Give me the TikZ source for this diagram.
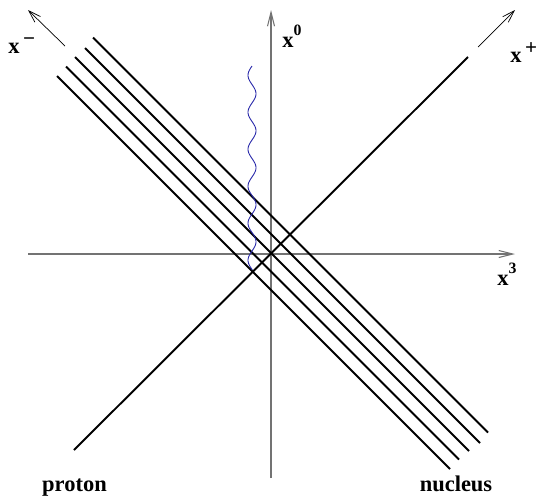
\documentclass[tikz,border=0pt]{standalone}
\usepackage{fontspec}
\setmainfont{Liberation Serif}
\usetikzlibrary{arrows.meta}
\definecolor{wavyblue}{HTML}{2424A8}
\newcommand{\supsign}[1]{\raisebox{0.35em}{\fontsize{12}{12}\selectfont\,#1}}
\newcommand{\supdigit}[1]{\raisebox{0.5em}{\fontsize{9}{9}\selectfont#1}}

\begin{document}
\begin{tikzpicture}[x=0.02cm, y=-0.02cm,
  axis/.style={black!55, line width=0.6pt, -{Straight Barb[length=8pt, width=4pt]}},
  cone/.style={black, line width=0.4pt, -{Straight Barb[length=7pt, width=4.5pt]}},
  beam/.style={black, line width=1.1pt},
  wave/.style={wavyblue, line width=0.5pt},
  lab/.style={font=\fontsize{12.8}{15}\selectfont\bfseries, inner sep=0pt}]
  \useasboundingbox (0,0) rectangle (537,495);
  % axes
  \coordinate (tbot) at (271,478);
  \coordinate (ttop) at (271,10);
  \coordinate (zleft) at (28,254);
  \coordinate (zright) at (515,254);
  \draw[axis] (tbot) -- (ttop);
  \draw[axis] (zleft) -- (zright);
  % light-cone directions
  \coordinate (mstart) at (65,46);
  \coordinate (mtip) at (28,10);
  \coordinate (pstart) at (478,47);
  \coordinate (ptip) at (515,10);
  \draw[cone] (mstart) -- (mtip);
  \draw[cone] (pstart) -- (ptip);
  % proton and nucleus
  \coordinate (protbot) at (74,450);
  \coordinate (prottop) at (468,57);
  \draw[beam] (protbot) -- (prottop);
  \foreach \sx/\ex/\c in {57/450/19, 66/459/0.5, 75/469/-18, 85/480/-37, 93/488/-55.5}
    \draw[beam] ({\sx},{\sx+\c}) -- ({\ex},{\ex+\c});
  % gluon
  \draw[wave] plot[domain=0:204, samples=140, smooth] ({252-4*sin(\x*9.73)}, {66+\x});
  % labels
  \node[lab, anchor=base west] (labminus) at (8,53) {x\supsign{−}};
  \node[lab, anchor=base west] (labzero) at (282,47) {x\supdigit{0}};
  \node[lab, anchor=base west] (labplus) at (510,62) {x\supsign{+}};
  \node[lab, anchor=base west] (labthree) at (497,285) {x\supdigit{3}};
  \node[lab, anchor=base] (labproton) at (74.5,491.5) {proton};
  \node[lab, anchor=base] (labnucleus) at (456,491.5) {nucleus};
\end{tikzpicture}
\end{document}
